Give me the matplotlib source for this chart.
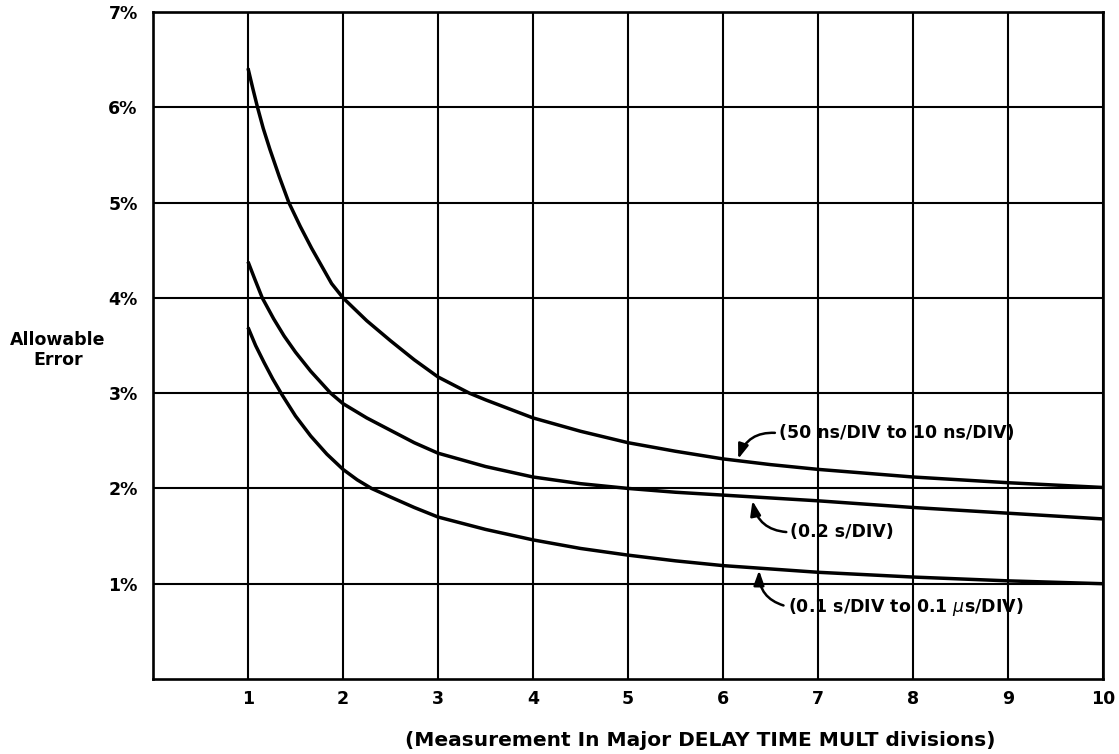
import matplotlib.pyplot as plt

# divisions (x) vs allowable error in percent (y)
fast_x = [1, 1.05, 1.1, 1.16, 1.23, 1.33, 1.43, 1.55, 1.67, 1.88, 2, 2.25, 2.5, 2.75, 3,
          3.33, 3.5, 4, 4.5, 5, 5.5, 6, 6.5, 7, 7.5, 8, 9, 10]
fast_y = [6.41, 6.2, 6.0, 5.78, 5.56, 5.27, 5.0, 4.75, 4.52, 4.15, 4.0, 3.76, 3.55, 3.35, 3.17,
          3.0, 2.93, 2.74, 2.6, 2.48, 2.39, 2.31, 2.25, 2.2, 2.16, 2.12, 2.06, 2.01]

slow_x = [1, 1.07, 1.15, 1.27, 1.38, 1.5, 1.66, 1.87, 2, 2.25, 2.5, 2.75, 3, 3.5, 4, 4.5,
          5, 5.5, 6, 7, 8, 9, 10]
slow_y = [4.38, 4.2, 4.0, 3.78, 3.6, 3.43, 3.23, 3.0, 2.89, 2.74, 2.61, 2.48, 2.37, 2.23,
          2.12, 2.05, 2.0, 1.96, 1.93, 1.87, 1.8, 1.74, 1.68]

mid_x = [1, 1.08, 1.17, 1.26, 1.36, 1.5, 1.66, 1.83, 2, 2.15, 2.3, 2.5, 2.75, 3, 3.5, 4,
         4.5, 5, 5.5, 6, 7, 8, 9, 10]
mid_y = [3.69, 3.5, 3.32, 3.15, 2.98, 2.76, 2.55, 2.36, 2.2, 2.09, 2.0, 1.91, 1.8, 1.7,
         1.57, 1.46, 1.37, 1.3, 1.24, 1.19, 1.12, 1.07, 1.03, 1.0]

x_ticks = list(range(1, 11))
y_ticks = list(range(1, 8))
y_tick_labels = [f"{v}%" for v in y_ticks]

# text, arrow tip, text anchor, arc bend
labels = [
    ("(50 ns/DIV to 10 ns/DIV)", (6.16, 2.31), (6.59, 2.58), 0.4),
    ("(0.2 s/DIV)", (6.31, 1.87), (6.71, 1.54), -0.4),
    ("(0.1 s/DIV to 0.1 $\\mu$s/DIV)", (6.38, 1.14), (6.68, 0.76), -0.4),
]

fig = plt.figure(figsize=(11.19, 7.54), dpi=100)
ax = fig.add_axes([153 / 1119, 75 / 754, 950 / 1119, 667 / 754])

for xs, ys in [(fast_x, fast_y), (slow_x, slow_y), (mid_x, mid_y)]:
    ax.plot(xs, ys, color="black", lw=2.5, solid_capstyle="butt",
            solid_joinstyle="round")

ax.set_xlim(0, 10)
ax.set_ylim(0, 7)
ax.set_xticks(x_ticks)
ax.set_xticklabels([str(v) for v in x_ticks], fontsize=12.5, fontweight="bold")
ax.set_yticks(y_ticks)
ax.set_yticklabels(y_tick_labels, fontsize=12.5, fontweight="bold")
ax.tick_params(length=0)
ax.tick_params(axis="x", pad=8)
ax.tick_params(axis="y", pad=11)
ax.grid(True, color="black", lw=1.5)
for spine in ax.spines.values():
    spine.set_linewidth(1.9)

for text, tip, place, bend in labels:
    ax.annotate(
        text,
        xy=tip,
        xytext=place,
        ha="left",
        va="center",
        fontsize=12.5,
        fontweight="bold",
        arrowprops=dict(
            arrowstyle="-|>,head_length=0.7,head_width=0.25",
            color="black",
            lw=1.8,
            relpos=(0, 0.5),
            shrinkA=1,
            shrinkB=0,
            connectionstyle=f"arc3,rad={bend}",
        ),
    )

fig.text(58 / 1119, 1 - 350 / 754, "Allowable\nError", ha="center", va="center",
         fontsize=12.5, fontweight="bold", linespacing=1.15)
fig.text(700 / 1119, 1 - 741 / 754, "(Measurement In Major DELAY TIME MULT divisions)",
         ha="center", va="center", fontsize=14.5, fontweight="bold")

fig.savefig("out.png", dpi=100)
